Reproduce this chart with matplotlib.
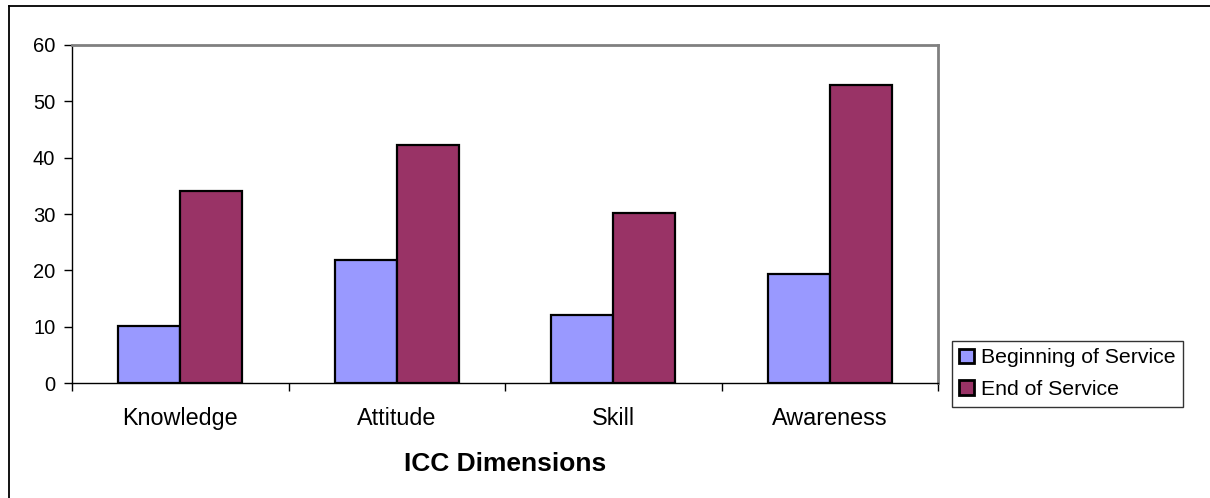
import matplotlib
matplotlib.use("Agg")
import matplotlib.pyplot as plt
import numpy as np
from matplotlib.lines import Line2D
from matplotlib.patches import Patch

categories = ["Knowledge", "Attitude", "Skill", "Awareness"]
beginning = [10.1, 21.8, 12.1, 19.3]
end = [34.1, 42.3, 30.1, 52.9]
series_names = ["Beginning of Service", "End of Service"]
colors = ["#9999FF", "#993366"]

plt.rcParams['font.family'] = ['Liberation Sans', 'DejaVu Sans']

W, H = 1210, 498
fig = plt.figure(figsize=(W / 100, H / 100), dpi=100)
fig.patch.set_facecolor("white")

# outer chart border (top and left visible)
fig.add_artist(Line2D([9 / W, 9 / W], [0, 1 - 6.5 / H], transform=fig.transFigure, color="black", lw=1.3))
fig.add_artist(Line2D([9 / W, 1], [1 - 6.5 / H, 1 - 6.5 / H], transform=fig.transFigure, color="black", lw=1.3))

x0, x1, y0, y1 = 72, 938, 45, 383
ax = fig.add_axes([x0 / W, 1 - y1 / H, (x1 - x0) / W, (y1 - y0) / H])

n = len(categories)
x = np.arange(n)
bw = 1 / 3.5
ax.bar(x - bw / 2, beginning, width=bw, color=colors[0], edgecolor="black", linewidth=1.6, zorder=3)
ax.bar(x + bw / 2, end, width=bw, color=colors[1], edgecolor="black", linewidth=1.6, zorder=3)

ax.set_xlim(-0.5, n - 0.5)
ax.set_ylim(0, 60)
ax.set_yticks(range(0, 61, 10))
ax.set_yticklabels([str(v) for v in range(0, 61, 10)], fontsize=14.5)
ax.set_xticks(np.arange(-0.5, n, 1.0))
ax.set_xticklabels([])
ax.set_xticks(x, minor=True)
ax.set_xticklabels(categories, minor=True, fontsize=16.8)
ax.tick_params(axis="x", which="minor", length=0, pad=17.5)
ax.tick_params(axis="x", which="major", direction="out", length=6, width=1, color="black")
ax.tick_params(axis="y", direction="out", length=6, width=1, color="black", pad=6)

for s in ["top", "right"]:
    ax.spines[s].set_color("#808080")
    ax.spines[s].set_linewidth(2)
ax.spines["left"].set_color("black")
ax.spines["bottom"].set_color("black")
ax.spines["left"].set_linewidth(1)
ax.spines["bottom"].set_linewidth(1)

fig.text((x0 + x1) / 2 / W, 1 - 464 / H, "ICC Dimensions", ha="center", va="center",
         fontsize=19, fontweight="bold")

handles = [Patch(facecolor=c, edgecolor="black", linewidth=2) for c in colors]
leg = fig.legend(handles, series_names, loc="upper left",
                 bbox_to_anchor=(952 / W, 1 - 341 / H), bbox_transform=fig.transFigure,
                 fontsize=15.3, frameon=True, fancybox=False, edgecolor="black",
                 handlelength=0.7, handleheight=0.7, handletextpad=0.3,
                 borderpad=0.35, labelspacing=0.6, borderaxespad=0)
leg.get_frame().set_linewidth(1)

fig.savefig("out.png", dpi=100)
